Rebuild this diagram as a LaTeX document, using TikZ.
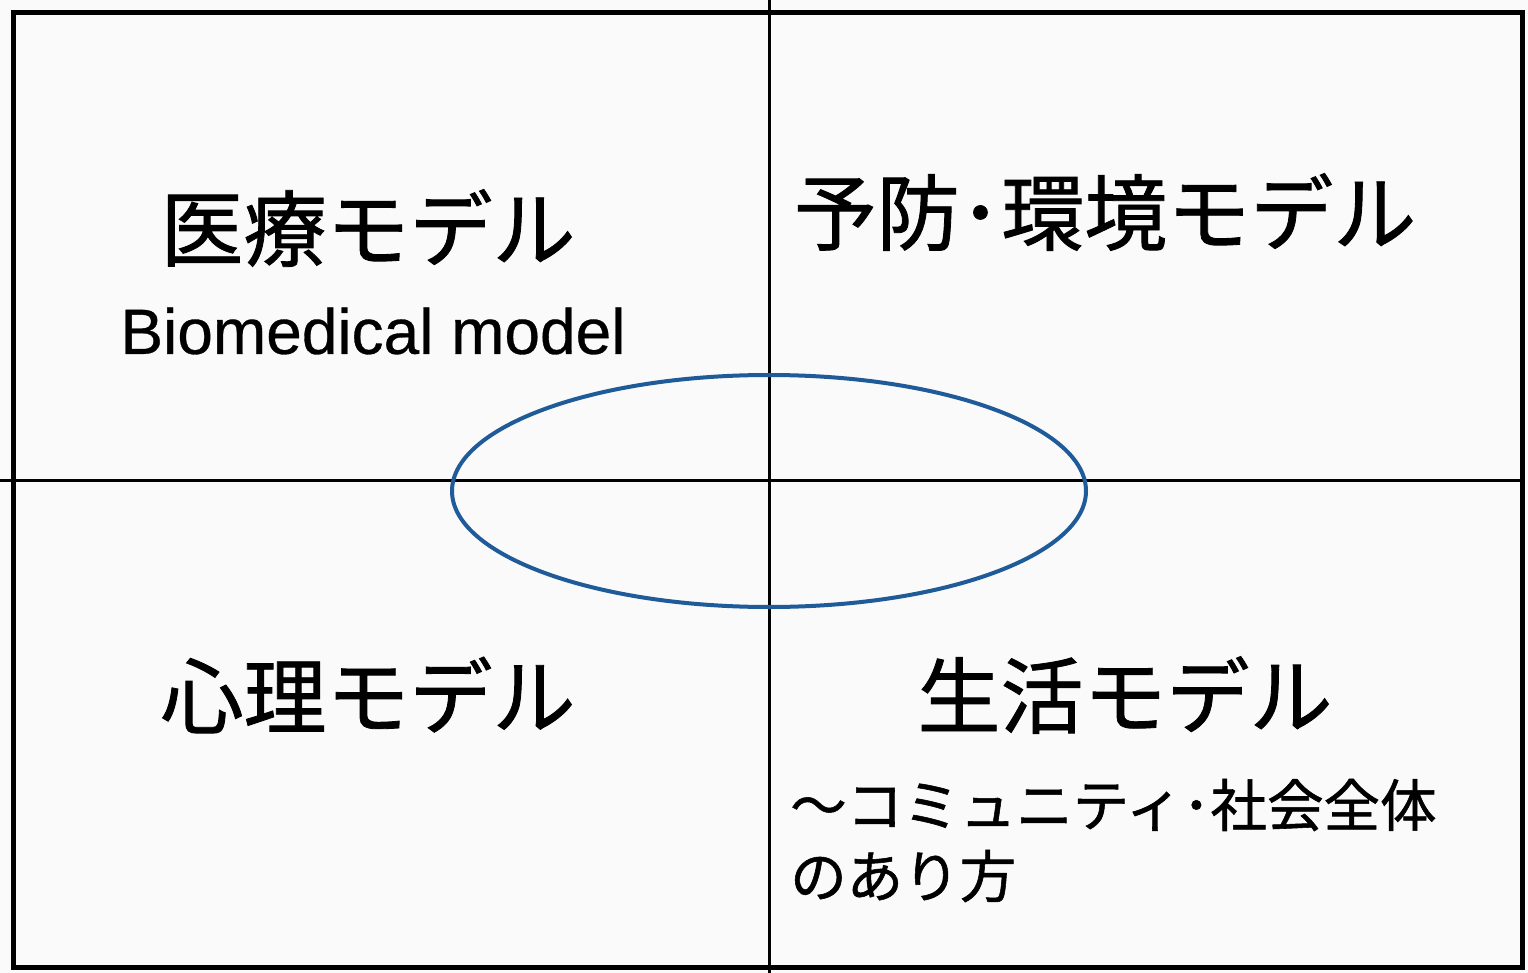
\documentclass[tikz,border=0pt]{standalone}
\usepackage{fontspec}
\usetikzlibrary{shapes.geometric}
\setmainfont{Liberation Sans}[FakeBold=0.5]
\newfontfamily\jp{Noto Sans CJK JP}[FakeBold=1.0]
\definecolor{ellblue}{HTML}{1F5A99}
\definecolor{bgpaper}{HTML}{FAFAFA}
\begin{document}
\begin{tikzpicture}[x=1pt,y=-1pt,
  bigjp/.style={inner sep=0pt,font=\jp\fontsize{83}{90}\selectfont},
  smalljp/.style={inner sep=0pt,anchor=west,font=\jp\fontsize{56.5}{62}\selectfont},
  latin/.style={inner sep=0pt,font=\fontsize{64}{70}\selectfont},
  axis/.style={line width=3pt,black}]
\fill[bgpaper] (0,0) rectangle (1528,973);
\useasboundingbox (0,0) rectangle (1528,973);
\draw[line width=5pt,black] (13,13) rectangle (1522,967);
\coordinate (top) at (769,0);
\coordinate (bottom) at (769,973);
\coordinate (left) at (0,480);
\coordinate (right) at (1522,480);
\draw[axis] (top) -- (bottom);
\draw[axis] (left) -- (right);
\node[draw=ellblue,line width=4pt,ellipse,minimum width=634,minimum height=232,inner sep=0pt] (ell) at (769,491) {};
\node[bigjp] (med) at (368,228) {医療モデル};
\node[latin] (bio) at (373,331) {Biomedical model};
\node[bigjp] (prev) at (1105,212) {予防･環境モデル};
\node[bigjp] (psy) at (368,695) {心理モデル};
\node[bigjp] (life) at (1125,695) {生活モデル};
\node[smalljp] (comm) at (790,805) {～コミュニティ･社会全体};
\node[smalljp] (way) at (790,876) {のあり方};
\end{tikzpicture}
\end{document}
